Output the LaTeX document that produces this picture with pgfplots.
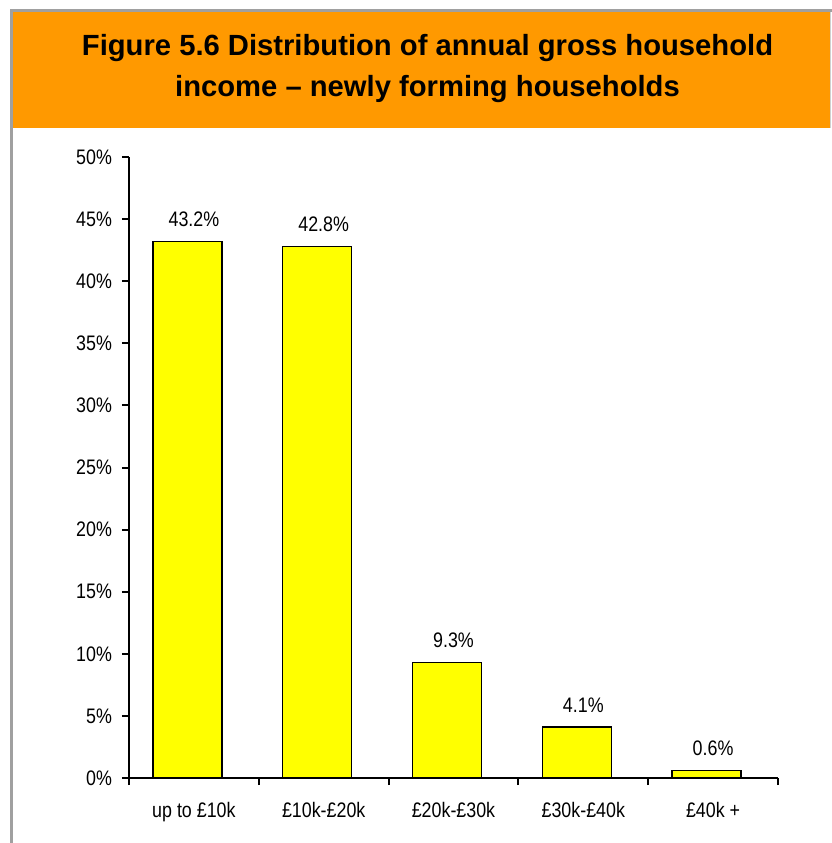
\documentclass[border=0pt]{standalone}
\usepackage{fontspec}
\setmainfont{Liberation Sans}
\newfontfamily\narrowfont[FakeStretch=0.85]{Liberation Sans}
\usepackage{pgfplots}
\pgfplotsset{compat=1.18}
\definecolor{banner}{RGB}{255,153,0}
\definecolor{frame}{RGB}{160,160,160}
\definecolor{baryellow}{RGB}{255,255,0}
\begin{document}
\begin{tikzpicture}[x=0.5pt,y=0.5pt]
\path[use as bounding box] (0,0) rectangle (832,843);
\fill[banner] (12,831) rectangle (830,715);
\draw[frame, line width=1.5pt] (11,0) -- (11,832) -- (832,832);
\draw[frame!50, line width=0.5pt] (830.5,831) -- (830.5,715);
\node[font=\fontsize{14.6}{20.5}\selectfont\bfseries, align=center] at (427.5,774) {Figure 5.6 Distribution of annual gross household\\income -- newly forming households};
\begin{axis}[
  at={(64.5pt,32.5pt)}, anchor=south west,
  width=324.5pt, height=310.5pt, scale only axis,
  axis lines*=left,
  axis line style={black, line width=1pt},
  ymin=0, ymax=50, ytick={0,5,...,50},
  yticklabel={\pgfmathprintnumber{\tick}\%},
  yticklabel style={xshift=-1.5pt},
  xmin=-0.5, xmax=4.5, xtick={0,1,2,3,4},
  xticklabels={up to £10k, £10k-£20k, £20k-£30k, £30k-£40k, £40k +},
  xticklabel style={yshift=-5pt},
  minor xtick={-0.5,0.5,1.5,2.5,3.5,4.5},
  tick align=outside,
  major tick length=3.5pt, minor tick length=3.5pt,
  tick style={black, line width=1pt},
  every major x tick/.append style={draw=none},
  /pgf/number format/assume math mode=true,
  tick label style={font=\narrowfont\fontsize{10.5}{12.5}\selectfont},
  nodes near coords={\pgfmathprintnumber[fixed,precision=1,fixed zerofill]{\pgfplotspointmeta}\%},
  nodes near coords style={anchor=base, yshift=7.5pt, font=\narrowfont\fontsize{10.5}{12.5}\selectfont, inner sep=0pt},
]
\addplot[ybar, fill=baryellow, draw=black, line width=0.75pt, bar width=0.532, bar shift=-3.25pt]
  coordinates {(0,43.2) (1,42.8) (2,9.3) (3,4.1) (4,0.6)};
\end{axis}
\end{tikzpicture}
\end{document}
